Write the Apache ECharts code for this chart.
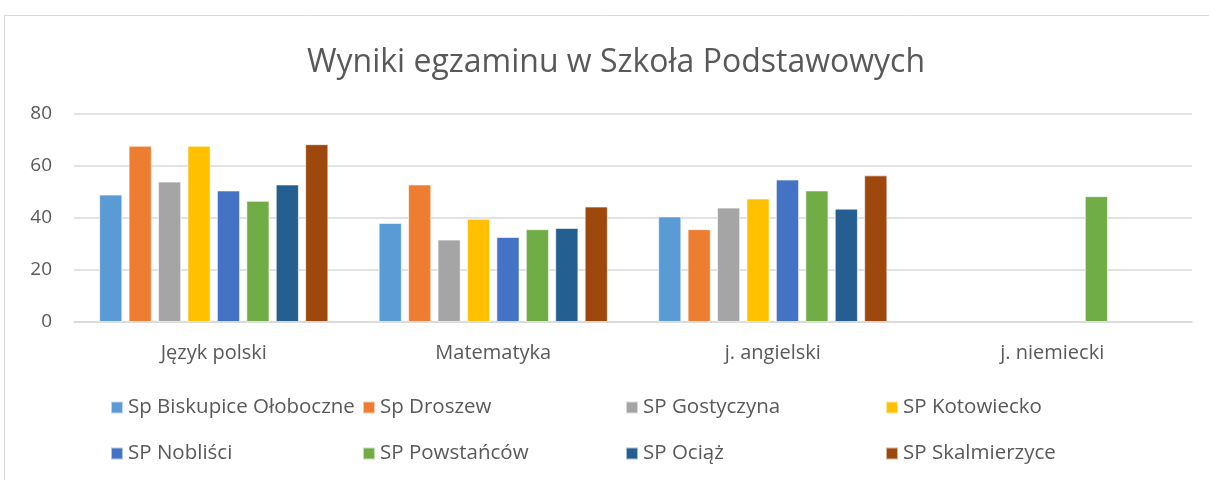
<!DOCTYPE html>
<html>
<head>
<meta charset="utf-8">
<script src="https://cdn.jsdelivr.net/npm/echarts@6/dist/echarts.min.js"></script>
<style>
  html, body { margin: 0; padding: 0; background: #fff; }
  #chart { width: 1209px; height: 480px; }
</style>
</head>
<body>
<div id="chart"></div>
<script>
// subjects
const categories = ['Język polski', 'Matematyka', 'j. angielski', 'j. niemiecki'];
const yTicks = [0, 20, 40, 60, 80];

const schoolNames = [
    'Sp Biskupice Ołoboczne', 'Sp Droszew', 'SP Gostyczyna', 'SP Kotowiecko',
    'SP Nobliści', 'SP Powstańców', 'SP Ociąż', 'SP Skalmierzyce'
];
const schoolColors = ['#5B9BD5', '#ED7D31', '#A5A5A5', '#FFC000', '#4472C4', '#70AD47', '#255E91', '#9E480E'];

// results per school, one value per subject
const biskupice = [49, 38.1, 40.6, null];
const droszew = [67.8, 52.9, 35.7, null];
const gostyczyna = [54, 31.7, 44, null];
const kotowiecko = [67.8, 39.7, 47.5, null];
const noblisci = [50.6, 32.7, 54.8, null];
const powstancow = [46.6, 35.7, 50.6, 48.4];
const ociaz = [52.9, 36.2, 43.6, null];
const skalmierzyce = [68.4, 44.4, 56.4, null];

const schoolValues = [biskupice, droszew, gostyczyna, kotowiecko, noblisci, powstancow, ociaz, skalmierzyce];

const font = 'Open Sans';
const textGray = '#595959';

const chartDom = document.getElementById('chart');
const myChart = echarts.init(chartDom);

let series = schoolNames.map((name, i) => ({
    name: name,
    type: 'bar',
    data: schoolValues[i],
    barGap: '27%',
    barCategoryGap: '18%',
    itemStyle: {
        color: schoolColors[i],
        borderColor: 'rgba(255,255,255,0.6)',
        borderWidth: 1
    }
}));

// legend in 4 fixed columns, 2 rows
const colLefts = [110, 362, 625, 885];
let legends = colLefts.map((left, c) => ({
    orient: 'vertical',
    left: left,
    top: 397,
    padding: 0,
    itemWidth: 12,
    itemHeight: 12,
    itemGap: 25,
    icon: 'rect',
    selectedMode: false,
    data: [schoolNames[c], schoolNames[c + 4]],
    textStyle: { fontFamily: font, fontSize: 20.5, color: textGray, lineHeight: 20 }
}));

let option = {
    animation: false,
    backgroundColor: '#fff',
    textStyle: { fontFamily: font },
    title: {
        text: 'Wyniki egzaminu w Szkoła Podstawowych',
        left: 616,
        textAlign: 'center',
        top: 47,
        padding: 0,
        textStyle: { fontFamily: font, fontSize: 32, fontWeight: 'normal', color: textGray }
    },
    graphic: [{
        type: 'rect',
        shape: { x: 4.5, y: 15.5, width: 1400, height: 800 },
        style: { fill: 'none', stroke: '#D9D9D9', lineWidth: 1 },
        silent: true
    }],
    legend: legends,
    grid: { left: 74, right: 17, top: 114, bottom: 158, containLabel: false },
    xAxis: {
        type: 'category',
        data: categories,
        axisLine: { lineStyle: { color: '#D9D9D9', width: 1.5 } },
        axisTick: { show: false },
        axisLabel: { fontFamily: font, fontSize: 20, color: textGray, margin: 21 }
    },
    yAxis: {
        type: 'value',
        min: yTicks[0],
        max: yTicks[yTicks.length - 1],
        interval: 20,
        axisLine: { show: false },
        axisTick: { show: false },
        splitLine: { lineStyle: { color: '#D9D9D9', width: 1.5 } },
        axisLabel: { fontFamily: font, fontSize: 19, color: textGray, margin: 22 }
    },
    series: series
};

option && myChart.setOption(option);
</script>
</body>
</html>
